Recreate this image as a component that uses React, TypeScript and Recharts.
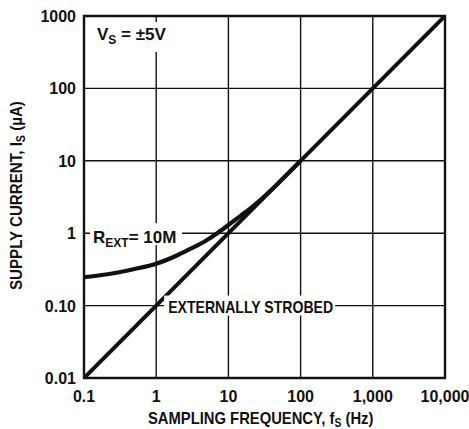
import React from "react";
import {
  LineChart,
  Line,
  XAxis,
  YAxis,
  CartesianGrid,
  ReferenceArea,
  ReferenceDot,
} from "recharts";

// Externally strobed supply current (straight line)
const strobedFreq = [0.1, 10000];
const strobedCurrent = [0.01, 1000];

// R_EXT = 10M curve
const rextFreq = [0.1, 0.2, 0.5, 1, 2, 3, 5, 7, 10, 15, 20, 30, 50, 100];
const rextCurrent = [0.247, 0.269, 0.32, 0.378, 0.5, 0.61, 0.8, 1.0, 1.3, 1.76, 2.19, 3.09, 5.0, 10];

const xTicks = [0.1, 1, 10, 100, 1000, 10000];
const xTickLabels = ["0.1", "1", "10", "100", "1,000", "10,000"];
const yTicks = [0.01, 0.1, 1, 10, 100, 1000];
const yTickLabels = ["0.01", "0.10", "1", "10", "100", "1000"];

const strobedData = strobedFreq.map((f, i) => ({ f, i: strobedCurrent[i] }));
const rextData = rextFreq.map((f, i) => ({ f, i: rextCurrent[i] }));

const FONT = "'Liberation Sans', Arial, Helvetica, sans-serif";
const INK = "#111";

const XTick = (props: any) => {
  const { x, y, payload } = props;
  const idx = xTicks.indexOf(payload.value);
  return (
    <text x={x} y={y + 16} textAnchor="middle" fontFamily={FONT} fontWeight="bold" fontSize={16} fill={INK}>
      {xTickLabels[idx]}
    </text>
  );
};

const YTick = (props: any) => {
  const { x, y, payload } = props;
  const idx = yTicks.indexOf(payload.value);
  return (
    <text x={x} y={y + 6} textAnchor="end" fontFamily={FONT} fontWeight="bold" fontSize={16} fill={INK}>
      {yTickLabels[idx]}
    </text>
  );
};

const RextLabel = (props: any) => {
  const { viewBox } = props;
  const x = viewBox.x;
  const y = viewBox.y;
  return (
    <g>
      <rect x={x + 6} y={y - 10} width={92} height={22} fill="#fff" />
      <text x={x + 9} y={y + 10} fontFamily={FONT} fontWeight="bold" fontSize={17} fill={INK}>
        <tspan>R</tspan>
        <tspan dy={4} fontSize={12}>EXT</tspan>
        <tspan dy={-4}>{"= 10M"}</tspan>
      </text>
    </g>
  );
};

const StrobedLabel = (props: any) => {
  const { viewBox } = props;
  const x = viewBox.x;
  const y = viewBox.y;
  return (
    <g>
      <rect x={x - 86} y={y - 10} width={171} height={20} fill="#fff" />
      <text
        x={x - 82}
        y={y + 7}
        fontFamily={FONT}
        fontWeight="bold"
        fontSize={17}
        fill={INK}
        textLength={165}
        lengthAdjust="spacingAndGlyphs"
      >
        EXTERNALLY STROBED
      </text>
    </g>
  );
};

const VsLabel = (props: any) => {
  const { viewBox } = props;
  const x = viewBox.x;
  const y = viewBox.y;
  return (
    <g>
      <rect x={x + 8} y={y + 6} width={80} height={30} fill="#fff" />
      <text x={x + 13} y={y + 24} fontFamily={FONT} fontWeight="bold" fontSize={17} fill={INK}>
        <tspan>V</tspan>
        <tspan dy={4} fontSize={12}>S</tspan>
        <tspan dy={-4}>{" = \u00B15V"}</tspan>
      </text>
    </g>
  );
};

export default function App() {
  return (
    <div style={{ position: "absolute", left: 0, top: 0, width: 469, height: 429, background: "#fff" }}>
      <LineChart width={469} height={429} margin={{ top: 16, right: 24, left: 0, bottom: 0 }}>
        <CartesianGrid stroke={INK} strokeWidth={1.4} horizontalValues={yTicks} verticalValues={xTicks} />
        <XAxis
          dataKey="f"
          type="number"
          scale="log"
          domain={[0.1, 10000]}
          ticks={xTicks}
          allowDataOverflow
          height={51}
          axisLine={false}
          tickLine={false}
          tick={<XTick />}
          interval={0}
        />
        <YAxis
          dataKey="i"
          type="number"
          scale="log"
          domain={[0.01, 1000]}
          ticks={yTicks}
          allowDataOverflow
          width={84}
          axisLine={false}
          tickLine={false}
          tick={<YTick />}
          interval={0}
        />
        <ReferenceArea
          x1={0.1}
          x2={10000}
          y1={0.01}
          y2={1000}
          fill="none"
          fillOpacity={0}
          stroke={INK}
          strokeWidth={2.4}
        />
        <ReferenceDot x={0.1} y={1} r={0} fill="none" stroke="none" label={<RextLabel />} />
        <ReferenceDot x={20} y={0.1} r={0} fill="none" stroke="none" label={<StrobedLabel />} />
        <ReferenceDot x={0.1} y={1000} r={0} fill="none" stroke="none" label={<VsLabel />} />
        <Line
          data={strobedData}
          dataKey="i"
          type="linear"
          stroke={INK}
          strokeWidth={4}
          dot={false}
          isAnimationActive={false}
        />
        <Line
          data={rextData}
          dataKey="i"
          type="monotone"
          stroke={INK}
          strokeWidth={4.2}
          dot={false}
          isAnimationActive={false}
        />
      </LineChart>
      <svg width={469} height={429} style={{ position: "absolute", left: 0, top: 0, pointerEvents: "none" }}>
        <g transform="translate(148 424) scale(0.87 1)">
          <text x={0} y={0} fontFamily={FONT} fontWeight="bold" fontSize={17} fill={INK}>
            <tspan>SAMPLING FREQUENCY, f</tspan>
            <tspan dy={3} fontSize={12}>S</tspan>
            <tspan dy={-3}>{" (Hz)"}</tspan>
          </text>
        </g>
        <g transform="translate(22 290) rotate(-90) scale(0.89 1)">
          <text x={0} y={0} fontFamily={FONT} fontWeight="bold" fontSize={17} fill={INK}>
            <tspan>SUPPLY CURRENT, I</tspan>
            <tspan dy={3} fontSize={12}>S</tspan>
            <tspan dy={-3}>{" (\u00B5A)"}</tspan>
          </text>
        </g>
      </svg>
    </div>
  );
}
